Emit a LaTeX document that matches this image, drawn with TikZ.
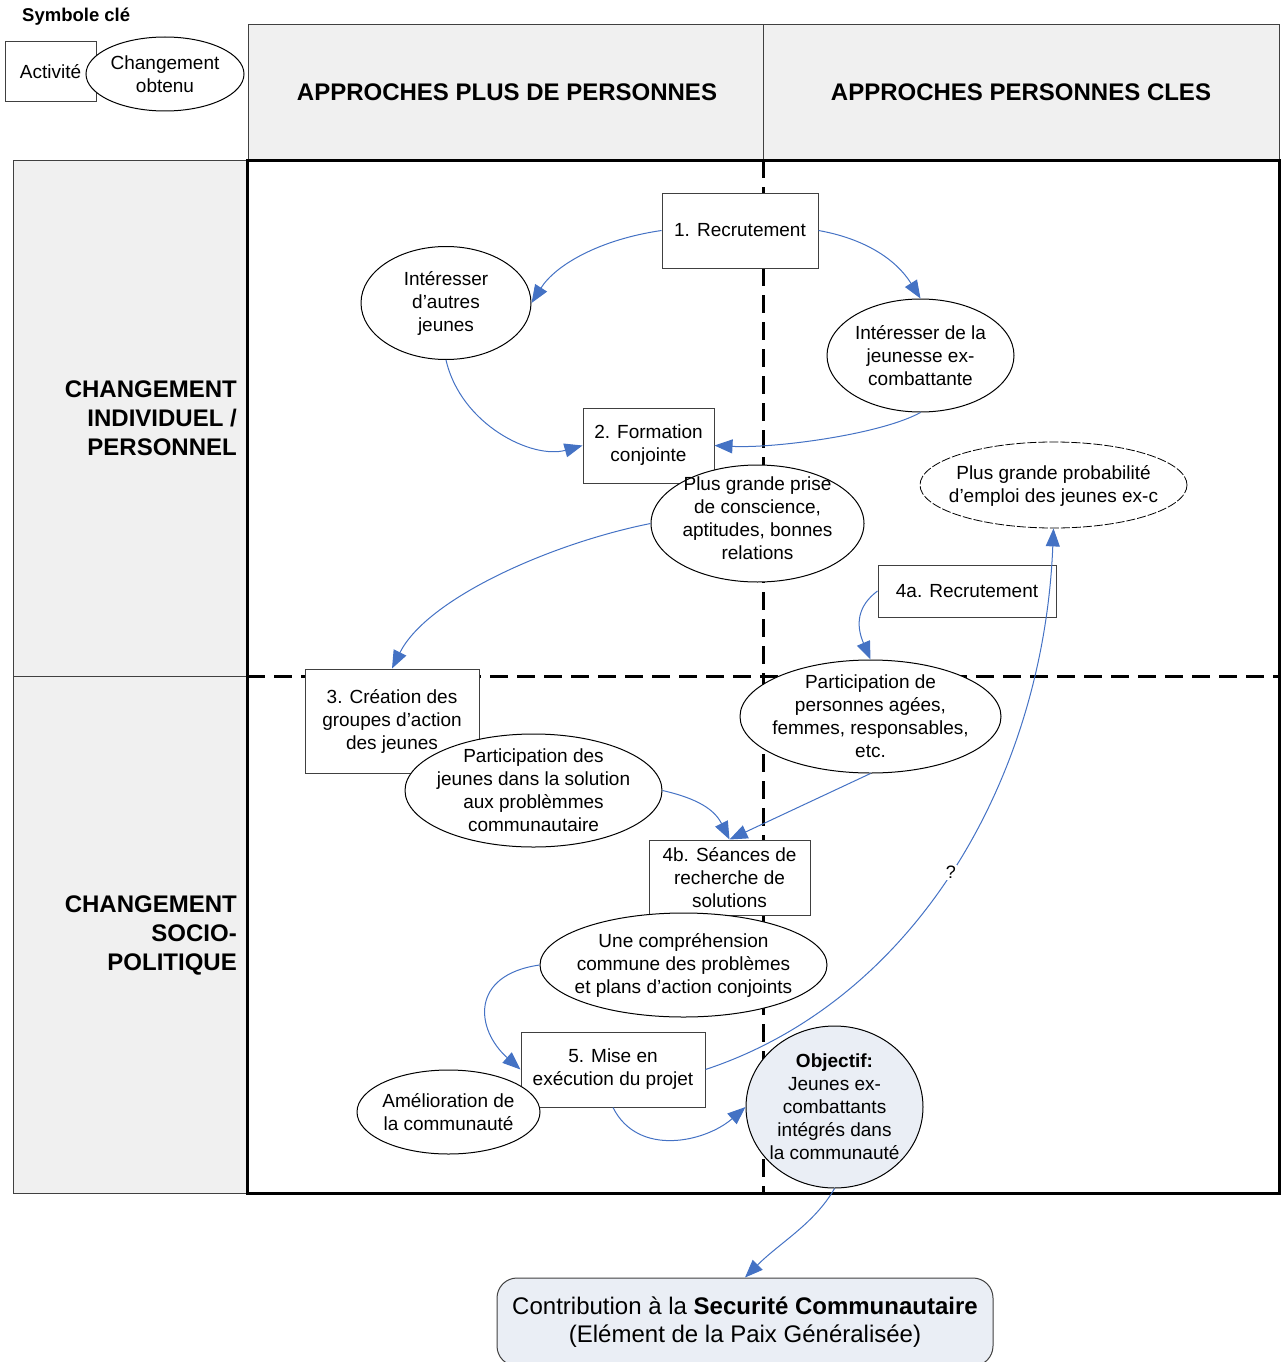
\documentclass[tikz,border=0pt]{standalone}
\usepackage{fontspec}
\setmainfont{Liberation Sans}
\usetikzlibrary{shapes.geometric,arrows.meta}
\definecolor{hdrgray}{RGB}{240,240,240}
\definecolor{objblue}{RGB}{234,238,245}
\definecolor{arrblue}{RGB}{68,114,196}
\definecolor{boxgray}{RGB}{64,64,64}
\begin{document}
\begin{tikzpicture}[x=1pt,y=-1pt,
  hdr/.style={draw=boxgray,line width=0.8pt,fill=hdrgray,rectangle,inner sep=0pt},
  txt/.style={align=center,font=\fontsize{19}{23}\selectfont,inner sep=0pt},
  act/.style={txt,draw=boxgray,line width=1pt,fill=white,rectangle},
  ell/.style={draw=black,line width=1pt,fill=white,ellipse,inner sep=0pt},
  hdrtxt/.style={font=\fontsize{24}{29}\selectfont\bfseries,inner sep=0pt},
  link/.style={draw=arrblue,line width=1pt,-{Triangle[length=18pt,width=14pt]}},
  griddash/.style={line width=3pt,dash pattern=on 18pt off 9pt},
]
\useasboundingbox (0,0) rectangle (1280,1362);

% key
\node[anchor=west,font=\fontsize{18.5}{22}\selectfont\bfseries,inner sep=0pt] (keytitle) at (22,16.5) {Symbole clé};
\node[act,minimum width=91pt,minimum height=60pt] (keyact) at (50.5,72) {Activité};
\node[ell,minimum width=158pt,minimum height=74pt] (keyell) at (165,74) {};
\node[txt] (keyelltxt) at (165,74.5) {Changement\\obtenu};

% headers
\node[hdr,minimum width=515pt,minimum height=136pt] (h1) at (505.5,92) {};
\node[hdrtxt] (h1t) at (507,92) {APPROCHES PLUS DE PERSONNES};
\node[hdr,minimum width=516pt,minimum height=136pt] (h2) at (1021,92) {};
\node[hdrtxt] (h2t) at (1021,92) {APPROCHES PERSONNES CLES};
\node[hdr,minimum width=234pt,minimum height=516pt] (rowa) at (130,418) {};
\node[hdrtxt,align=right,anchor=east] (rowat) at (237,418) {CHANGEMENT\\INDIVIDUEL /\\PERSONNEL};
\node[hdr,minimum width=234pt,minimum height=517pt] (rowb) at (130,934.5) {};
\node[hdrtxt,align=right,anchor=east] (rowbt) at (237,935) {CHANGEMENT\\SOCIO-\\POLITIQUE};

% grid
\draw[griddash] (763,160) -- (763,1193);
\draw[griddash] (247,676) -- (1279,676);
\draw[line width=3pt] (247,160) rectangle (1279,1193);

% activities
\node[act,minimum width=156pt,minimum height=75pt] (r1) at (740,230.5) {1. Recrutement};
\node[act,minimum width=131pt,minimum height=75pt] (r2) at (648.5,445.5) {2. Formation\\conjointe};
\node[act,minimum width=174pt,minimum height=104pt] (r3) at (392,721) {3. Création des\\groupes d’action\\des jeunes};
\node[act,minimum width=178pt,minimum height=52pt] (r4a) at (967,591) {4a. Recrutement};
\node[act,minimum width=161pt,minimum height=75pt] (r4b) at (729.5,877.5) {4b. Séances de\\recherche de\\solutions};
\node[act,minimum width=184pt,minimum height=75pt] (r5) at (613,1069.5) {5. Mise en\\exécution du projet};

% changes
\node[ell,minimum width=170pt,minimum height=113pt] (e1) at (446,303) {};
\node[txt] (e1t) at (446,303.5) {Intéresser\\d’autres\\jeunes};
\node[ell,minimum width=187pt,minimum height=113pt] (e2) at (920.5,355.5) {};
\node[txt] (e2t) at (920.5,355.5) {Intéresser de la\\jeunesse ex-\\combattante};
\node[ell,minimum width=213pt,minimum height=117pt] (e3) at (757.5,523.5) {};
\node[txt] (e3t) at (757.5,518.5) {Plus grande prise\\de conscience,\\aptitudes, bonnes\\relations};
\node[ell,line width=0.8pt,dash pattern=on 9pt off 2pt,minimum width=267pt,minimum height=86pt] (e4) at (1053.5,485) {};
\node[txt] (e4t) at (1053.5,486) {Plus grande probabilité\\d’emploi des jeunes ex-c};
\node[ell,minimum width=261pt,minimum height=113pt] (e5) at (870.5,716.5) {};
\node[txt] (e5t) at (870.5,716.5) {Participation de\\personnes agées,\\femmes, responsables,\\etc.};
\node[ell,minimum width=257pt,minimum height=113pt] (e6) at (533.5,790.5) {};
\node[txt] (e6t) at (533.5,790.5) {Participation des\\jeunes dans la solution\\aux problèmmes\\communautaire};
\node[ell,minimum width=287pt,minimum height=104pt] (e7) at (683.5,965) {};
\node[txt] (e7t) at (683.5,965.5) {Une compréhension\\commune des problèmes\\et plans d’action conjoints};
\node[ell,minimum width=183pt,minimum height=84pt] (e8) at (448.5,1112) {};
\node[txt] (e8t) at (448.5,1112) {Amélioration de\\la communauté};
\node[ell,fill=objblue,minimum width=177pt,minimum height=162pt] (obj) at (834.5,1107) {};
\node[txt] (objt) at (834.5,1107) {\textbf{Objectif:}\\Jeunes ex-\\combattants\\intégrés dans\\la communauté};

% goal
\node[draw=boxgray,line width=1pt,fill=objblue,rounded corners=20pt,minimum width=496pt,minimum height=88pt,inner sep=0pt] (contrib) at (745,1322) {};
\node[align=center,font=\fontsize{24}{28}\selectfont,inner sep=0pt] (contribt) at (745,1322.5) {Contribution à la \textbf{Securité Communautaire}\\(Elément de la Paix Généralisée)};

% connectors
\draw[link] (r1.west) .. controls +(-62,9) and +(24,-38) .. (e1.east);
\draw[link] (r1.east) .. controls +(45,8) and +(-25,-40) .. (e2.north);
\draw[link] (e1.south) .. controls +(15,65) and +(-50,14) .. (r2.west);
\draw[link] (e2.south) .. controls +(-40,22) and +(60,3) .. (r2.east);
\draw[link] (e3.west) .. controls +(-100,20) and +(35,-70) .. (r3.north);
\draw[link] (r4a.west) .. controls +(-20,15) and +(-15,-35) .. (e5.north);
\draw[link] (e6.east) .. controls +(35,8) and +(-15,-30) .. (r4b.north);
\draw[link] (e5.south) -- (r4b.north);
\draw[link] (e7.west) .. controls +(-70,10) and +(-45,-40) .. (r5.west);
\draw[link] (r5.south) .. controls +(25,50) and +(-40,35) .. (obj.west);
\draw[link] (r5.east) .. controls +(210,-69.5) and +(-10,250) .. node[pos=0.49,fill=white,inner sep=1pt,font=\fontsize{18}{21}\selectfont] (qm) {?} (e4.south);
\draw[link] (obj.south) .. controls +(-20,35) and +(35,-35) .. (contrib.north);
\end{tikzpicture}
\end{document}
